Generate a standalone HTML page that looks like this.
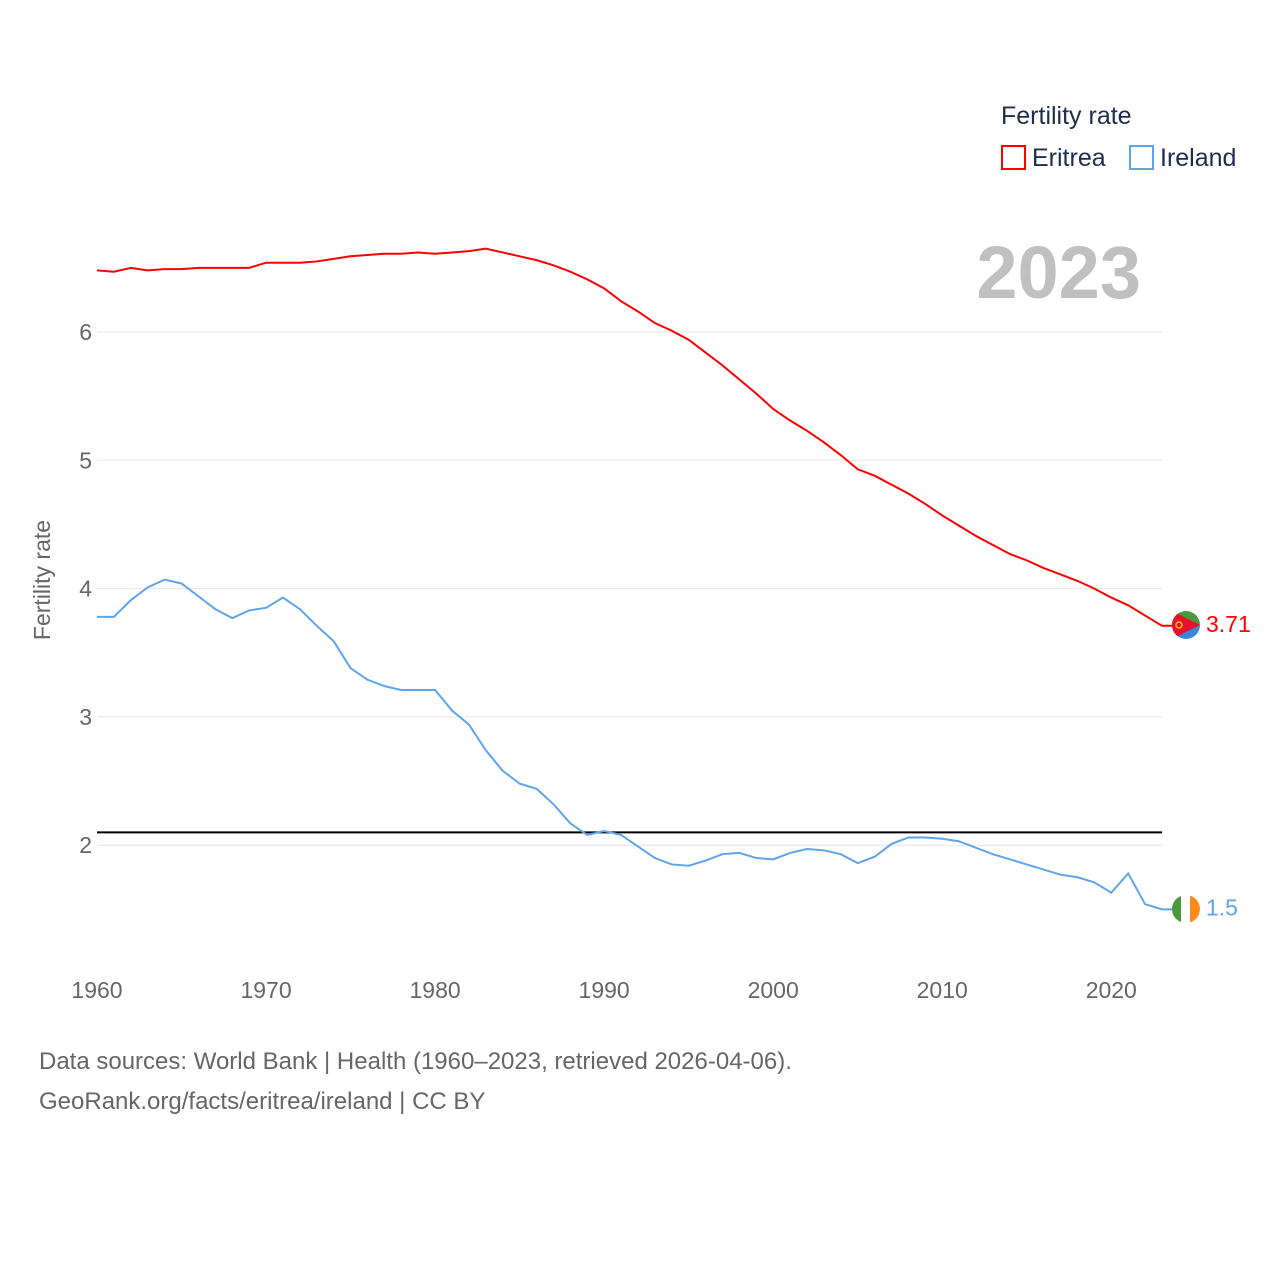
<!DOCTYPE html>
<html><head><meta charset="utf-8"><style>
body{margin:0;background:#fff;font-family:"Liberation Sans",sans-serif}
svg{display:block}
text{font-family:"Liberation Sans",sans-serif}
</style></head><body>
<svg id="chart" width="1280" height="1280">
<defs>
<clipPath id="flagclipE"><circle cx="1186" cy="625" r="14"/></clipPath>
<clipPath id="flagclipI"><circle cx="1186" cy="909" r="14"/></clipPath>
</defs>
<g id="grid"></g>
<g id="lines"></g>
<text x="1141" y="298" font-size="74" font-weight="bold" fill="#c0c0c0" text-anchor="end">2023</text>
<text x="1001" y="124" font-size="25" fill="#1f2d4d">Fertility rate</text>
<rect x="1002" y="146" width="23" height="23" fill="none" stroke="#ff0000" stroke-width="2"/>
<text x="1032" y="166" font-size="25" fill="#1f2d4d">Eritrea</text>
<rect x="1130" y="146" width="23" height="23" fill="none" stroke="#5ea5ee" stroke-width="2"/>
<text x="1160" y="166" font-size="25" fill="#1f2d4d">Ireland</text>
<text transform="translate(50,580) rotate(-90)" font-size="23" fill="#666" text-anchor="middle">Fertility rate</text>
<text x="39" y="1069" font-size="24" fill="#666">Data sources: World Bank | Health (1960–2023, retrieved 2026-04-06).</text>
<text x="39" y="1109" font-size="24" fill="#666">GeoRank.org/facts/eritrea/ireland | CC BY</text>
<g clip-path="url(#flagclipE)">
<rect x="1172" y="611" width="28" height="14" fill="#4a9a3a"/>
<rect x="1172" y="625" width="28" height="14" fill="#3a86e0"/>
<polygon points="1172,611 1200,625 1172,639" fill="#e8112d"/>
<circle cx="1179" cy="625" r="3" fill="none" stroke="#f5c400" stroke-width="1.5"/>
</g>
<g clip-path="url(#flagclipI)">
<rect x="1172" y="895" width="10" height="28" fill="#4a9a3a"/>
<rect x="1181" y="895" width="10" height="28" fill="#ffffff"/>
<rect x="1190" y="895" width="10" height="28" fill="#ff8c1a"/>
</g>
</svg>
<script>
const years=[];for(let y=1960;y<=2023;y++)years.push(y);
const eritrea=[6.48,6.47,6.50,6.48,6.49,6.49,6.50,6.50,6.50,6.50,6.54,6.54,6.54,6.55,6.57,6.59,6.60,6.61,6.61,6.62,6.61,6.62,6.63,6.65,6.62,6.59,6.56,6.52,6.47,6.41,6.34,6.24,6.16,6.07,6.01,5.94,5.84,5.74,5.63,5.52,5.40,5.31,5.23,5.14,5.04,4.93,4.88,4.81,4.74,4.66,4.57,4.49,4.41,4.34,4.27,4.22,4.16,4.11,4.06,4.00,3.93,3.87,3.79,3.71];
const ireland=[3.78,3.78,3.91,4.01,4.07,4.04,3.94,3.84,3.77,3.83,3.85,3.93,3.84,3.71,3.59,3.38,3.29,3.24,3.21,3.21,3.21,3.05,2.94,2.74,2.58,2.48,2.44,2.32,2.17,2.08,2.11,2.08,1.99,1.90,1.85,1.84,1.88,1.93,1.94,1.90,1.89,1.94,1.97,1.96,1.93,1.86,1.91,2.01,2.06,2.06,2.05,2.03,1.98,1.93,1.89,1.85,1.81,1.77,1.75,1.71,1.63,1.78,1.54,1.50];
const yTicks=[2,3,4,5,6];
const xTicks=[1960,1970,1980,1990,2000,2010,2020];
const replacement=2.1;
const X=y=>97+(y-1960)*(1162-97)/63;
const Y=v=>332+(6-v)*128.3;
const NS="http://www.w3.org/2000/svg";
const grid=document.getElementById('grid'),lines=document.getElementById('lines');
function mk(tag,attrs,parent,txt){const e=document.createElementNS(NS,tag);for(const k in attrs)e.setAttribute(k,attrs[k]);if(txt!==undefined)e.textContent=txt;parent.appendChild(e);return e;}
yTicks.forEach(t=>{
 const l=mk('line',{x1:97,x2:1162,y1:Y(t),y2:Y(t),stroke:'#e6e6e6','stroke-width':1},grid);
 
 
 const tx=mk('text',{x:92,y:Y(t)+8,'font-size':23,fill:'#666','text-anchor':'end'},grid,String(t));
 
 
});
xTicks.forEach(t=>{
 const tx=mk('text',{x:X(t),y:998,'font-size':23,fill:'#666','text-anchor':'middle'},grid,String(t));
 
 
});
const rl=mk('line',{x1:97,x2:1162,y1:Y(replacement),y2:Y(replacement),stroke:'#000','stroke-width':2},lines);


function series(vals,color,name,lbl){
 const last=vals[vals.length-1],ly=Y(last);
 const pts=vals.map((v,i)=>X(years[i])+','+Y(v));
 pts.push('1175,'+ly);
 const p=mk('polyline',{points:pts.join(' '),fill:'none',stroke:color,'stroke-width':2},lines);
 
 
 const t=mk('text',{x:1206,y:ly+6,'font-size':23,fill:color},lines,lbl);
 
 
}
series(eritrea,'#ff0000','eritrea','3.71');
series(ireland,'#5ea5ee','ireland','1.5');
</script>
</body></html>
